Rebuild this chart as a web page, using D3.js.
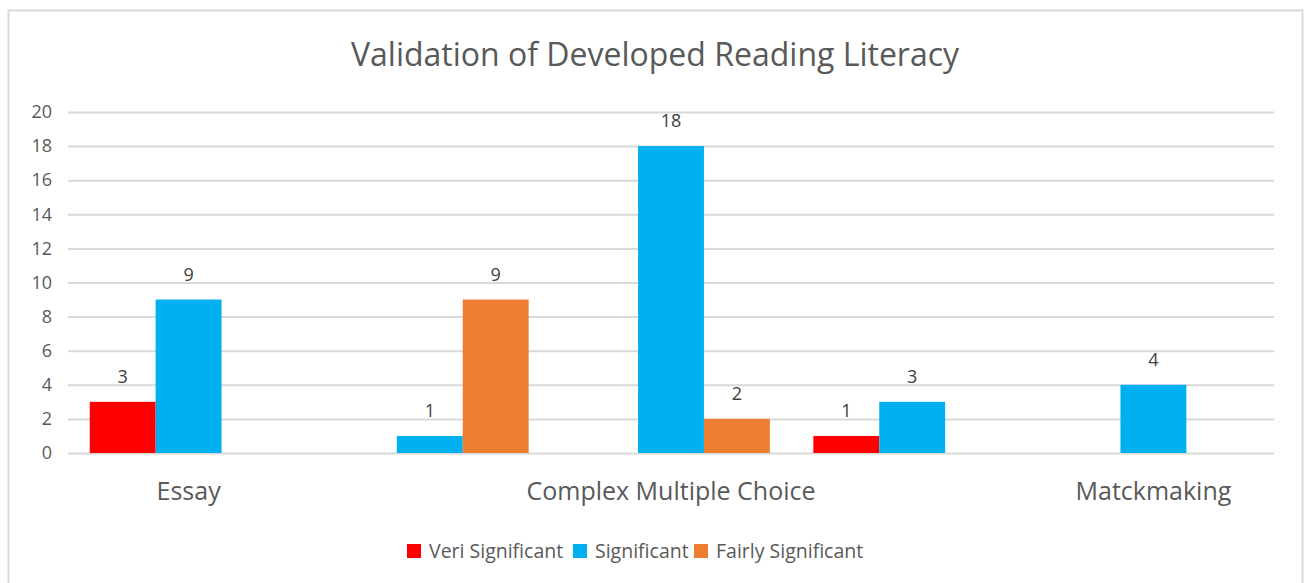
<!DOCTYPE html>
<html>
<head>
<meta charset="utf-8">
<script src="https://cdn.jsdelivr.net/npm/d3@7"></script>
<style>
  body { margin: 0; background: #fff; }
  svg { font-family: "Open Sans", "Liberation Sans", sans-serif; }
</style>
</head>
<body>
<div id="chart"></div>
<script>
// data
const categories = ["Essay", "", "Complex Multiple Choice", "", "Matckmaking"];
const seriesNames = ["Veri Significant", "Significant", "Fairly Significant"];
const seriesColors = ["#FF0000", "#00B0F0", "#ED7D31"];
const veriSignificant = [3, 0, 0, 1, 0];
const significant = [9, 1, 18, 3, 4];
const fairlySignificant = [0, 9, 2, 0, 0];
const yTicks = [0, 2, 4, 6, 8, 10, 12, 14, 16, 18, 20];

const W = 1308, H = 583;
const margin = { top: 112, right: 34, bottom: 130, left: 68 };
const width = W - margin.left - margin.right;
const height = H - margin.top - margin.bottom;

const svg = d3.select("#chart").append("svg")
    .attr("width", W).attr("height", H);

// outer frame
svg.append("rect")
    .attr("x", 8.5).attr("y", 10.5)
    .attr("width", 1294).attr("height", 600)
    .attr("fill", "#fff").attr("stroke", "#d9d9d9").attr("stroke-width", 2);

svg.append("text")
    .attr("x", 655).attr("y", 66)
    .attr("text-anchor", "middle")
    .attr("fill", "#595959")
    .attr("font-size", 32)
    .text("Validation of Developed Reading Literacy");

const g = svg.append("g").attr("transform", `translate(${margin.left},${margin.top})`);

const x0 = d3.scaleBand().domain(d3.range(categories.length)).range([0, width]).paddingInner(0).paddingOuter(0);
const x1 = d3.scaleBand().domain(d3.range(seriesNames.length)).range([0, x0.bandwidth()]).paddingInner(0).paddingOuter(0.33);
const y = d3.scaleLinear().domain([0, 20]).range([height, 0]);

// gridlines
g.append("g")
    .call(d3.axisLeft(y).tickValues(yTicks).tickSize(-width).tickFormat(""))
    .call(a => a.select(".domain").remove())
    .call(a => a.selectAll("line").attr("stroke", "#d9d9d9").attr("stroke-width", 2));

// y labels
g.append("g")
    .call(d3.axisLeft(y).tickValues(yTicks).tickSize(0).tickPadding(16))
    .call(a => a.select(".domain").remove())
    .call(a => a.selectAll("text").attr("fill", "#595959").attr("font-size", 18)
        .attr("font-family", "'Open Sans', sans-serif"));

const seriesData = [veriSignificant, significant, fairlySignificant];
const rows = [];
seriesData.forEach((vals, s) => vals.forEach((v, c) => rows.push({ s, c, v })));

g.selectAll(".bar")
    .data(rows.filter(d => d.v > 0))
    .enter().append("rect")
    .attr("class", "bar")
    .attr("x", d => x0(d.c) + x1(d.s))
    .attr("width", x1.bandwidth())
    .attr("y", d => y(d.v))
    .attr("height", d => height - y(d.v))
    .attr("fill", d => seriesColors[d.s]);

g.selectAll(".lbl")
    .data(rows.filter(d => d.v > 0))
    .enter().append("text")
    .attr("class", "lbl")
    .attr("x", d => x0(d.c) + x1(d.s) + x1.bandwidth() / 2)
    .attr("y", d => y(d.v) - 19)
    .attr("text-anchor", "middle")
    .attr("fill", "#404040")
    .attr("font-size", 18)
    .text(d => d.v);

// category axis
g.append("g")
    .attr("transform", `translate(0,${height})`)
    .call(d3.axisBottom(x0).tickSize(0).tickPadding(29).tickFormat(i => categories[i]))
    .call(a => a.select(".domain").remove())
    .call(a => a.selectAll("text").attr("fill", "#595959").attr("font-size", 25)
        .attr("font-family", "'Open Sans', sans-serif"));

// legend
const legendItems = [
    { name: seriesNames[0], x: 407 },
    { name: seriesNames[1], x: 573 },
    { name: seriesNames[2], x: 694 }
];
const lg = svg.append("g");
legendItems.forEach((d, i) => {
    lg.append("rect").attr("x", d.x).attr("y", 544).attr("width", 14).attr("height", 14)
        .attr("fill", seriesColors[i]);
    lg.append("text").attr("x", d.x + 22).attr("y", 558)
        .attr("fill", "#595959").attr("font-size", 19.5)
        .text(d.name);
});
</script>
</body>
</html>
